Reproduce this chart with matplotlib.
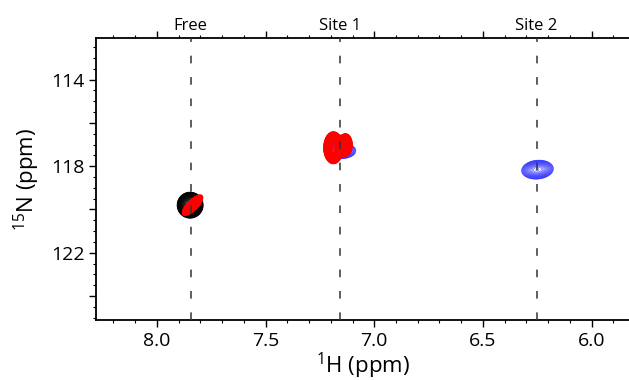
import numpy as np
import matplotlib.pyplot as plt
from matplotlib.ticker import MultipleLocator
import matplotlib.transforms as mtransforms

plt.rcParams['font.family'] = ['Open Sans', 'DejaVu Sans']
plt.rcParams['mathtext.default'] = 'regular'

# reference lines on top
site_names = ['Free', 'Site 1', 'Site 2']
site_h = [7.845, 7.158, 6.253]

# peaks: colour, 1H / 15N centre, widths, tilt, height
peak_color = ['blue', 'blue', 'black', 'red', 'red', 'red']
peak_h = [6.249, 7.153, 7.847, 7.836, 7.188, 7.132]
peak_n = [118.16, 117.29, 119.80, 119.80, 117.15, 117.02]
peak_sh = [0.030, 0.028, 0.0244, 0.019, 0.018, 0.013]
peak_sn = [0.18, 0.15, 0.245, 0.19, 0.30, 0.22]
peak_rho = [0.1, 0.0, 0.0, 0.75, 0.0, 0.0]
peak_amp = [1.0, 1.0, 1.0, 1.0, 1.0, 0.75]

xticks = [8.0, 7.5, 7.0, 6.5, 6.0]
xticklabels = ['8.0', '7.5', '7.0', '6.5', '6.0']
yticks = [114, 116, 118, 120, 122, 124]
yticklabels = ['114', '', '118', '', '122', '']

xlim = (8.279, 5.828)
ylim = (125.1, 112.1)

H, N = np.meshgrid(np.linspace(8.3, 5.8, 1400), np.linspace(112.0, 125.2, 900))


def peak(i):
    u = (H - peak_h[i]) / peak_sh[i]
    v = (N - peak_n[i]) / peak_sn[i]
    r = peak_rho[i]
    q = (u * u - 2 * r * u * v + v * v) / (1 - r * r)
    return peak_amp[i] * np.exp(-0.5 * q)


spectra = {}
for i, c in enumerate(peak_color):
    spectra[c] = spectra.get(c, 0) + peak(i)

fig = plt.figure(figsize=(6.29, 3.8), dpi=100)
ax = fig.add_axes([0.153, 0.158, 0.847, 0.741])

styles = {'blue': ('#2a2aff', 0.35, 20, 1),
          'black': ('black', 0.6, 22, 2),
          'red': ('red', 0.9, 30, 3)}
for c in ['blue', 'black', 'red']:
    col, lw, n, z = styles[c]
    z_data = spectra[c]
    levels = z_data.max() * np.geomspace(0.05, 0.97, n)
    ax.contour(H, N, z_data, levels=levels, colors=col, linewidths=lw, zorder=z)

trans = mtransforms.blended_transform_factory(ax.transData, ax.transAxes)
for name, h in zip(site_names, site_h):
    ax.axvline(h, color='#333333', lw=1.1, dashes=(5, 9), zorder=5)
    ax.text(h, 1.015, name, transform=trans, ha='center', va='bottom', fontsize=12)

ax.set_xlim(*xlim)
ax.set_ylim(*ylim)
ax.set_xticks(xticks)
ax.set_xticklabels(xticklabels)
ax.set_yticks(yticks)
ax.set_yticklabels(yticklabels)
ax.xaxis.set_minor_locator(MultipleLocator(0.1))
ax.yaxis.set_minor_locator(MultipleLocator(0.5))
ax.tick_params(axis='both', which='major', labelsize=14, length=5, width=1, direction='out')
ax.tick_params(axis='both', which='minor', length=2.5, width=0.8, direction='out')
ax.tick_params(axis='x', which='both', top=True)
ax.spines['right'].set_visible(False)
for s in ['left', 'bottom', 'top']:
    ax.spines[s].set_linewidth(1.3)

ax.set_xlabel('$^{1}$H (ppm)', fontsize=16)
ax.xaxis.set_label_coords(0.5, -0.11)
ax.set_ylabel('$^{15}$N (ppm)', fontsize=16, labelpad=6)

fig.savefig('out.png', dpi=100)
